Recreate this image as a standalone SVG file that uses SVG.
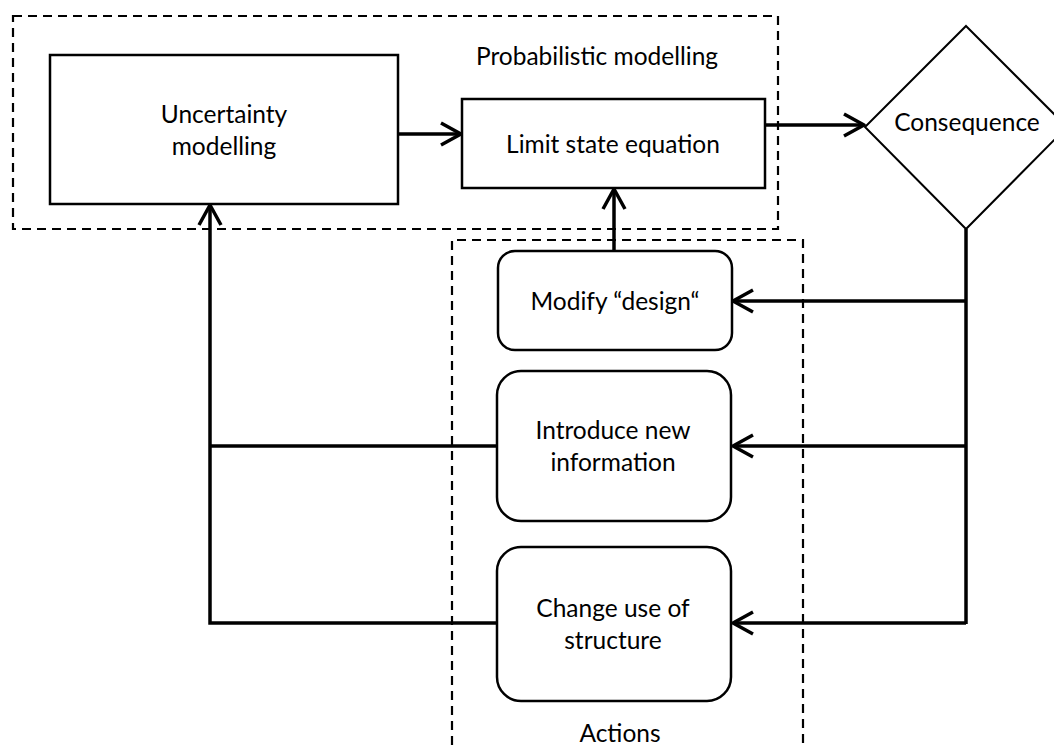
<svg xmlns="http://www.w3.org/2000/svg" width="1054" height="746" viewBox="0 0 1054 746">
  <style>
    .box { fill: #ffffff; stroke: #000000; stroke-width: 2.5; }
    .dia { fill: #ffffff; stroke: #000000; stroke-width: 2; }
    .dash { fill: none; stroke: #000000; stroke-width: 2.2; stroke-dasharray: 9 6; }
    .con { fill: none; stroke: #000000; stroke-width: 3.5; }
    .arr { fill: none; stroke: #000000; stroke-width: 3.5; marker-end: url(#head); }
    text { font-family: Lato, "Open Sans", "Liberation Sans", sans-serif; font-size: 24.5px; fill: #000000; text-anchor: middle; }
  </style>
  <defs>
    <marker id="head" markerUnits="userSpaceOnUse" viewBox="-23 -13 25 26" markerWidth="25" markerHeight="26" refX="0" refY="0" orient="auto">
      <path d="M -20 -11 L 0 0 L -20 11" fill="none" stroke="#000000" stroke-width="3.5" stroke-linejoin="round"/>
    </marker>
  </defs>
  <rect width="1054" height="746" fill="#ffffff"/>

  <g id="group-probabilistic">
    <rect class="dash" x="13" y="16" width="765" height="213"/>
    <text x="597" y="65">Probabilistic modelling</text>
  </g>
  <g id="group-actions">
    <path class="dash" d="M 452 760 L 452 240 L 803 240 L 803 760"/>
    <text x="620" y="742">Actions</text>
  </g>

  <g id="connectors">
    <path class="arr" d="M 398 134 L 461 134"/>
    <path class="arr" d="M 765 125 L 864 125"/>
    <path class="con" d="M 966 229 L 966 624"/>
    <path class="arr" d="M 966 301 L 733 301"/>
    <path class="arr" d="M 966 446 L 733 446"/>
    <path class="arr" d="M 966 623 L 733 623"/>
    <path class="arr" d="M 614 251 L 614 189"/>
    <path class="con" d="M 497 446 L 210 446"/>
    <path class="arr" d="M 497 623 L 210 623 L 210 205"/>
  </g>

  <g id="node-uncertainty">
    <rect class="box" x="50" y="55" width="348" height="149"/>
    <text x="224" y="123">Uncertainty</text>
    <text x="224" y="155">modelling</text>
  </g>
  <g id="node-limit">
    <rect class="box" x="462" y="99" width="303" height="89"/>
    <text x="613" y="153">Limit state equation</text>
  </g>
  <g id="node-consequence">
    <polygon class="dia" points="966,26 1067,127 966,229 865,127"/>
    <text x="967" y="131">Consequence</text>
  </g>
  <g id="node-modify">
    <rect class="box" x="498" y="251" width="234" height="99" rx="17" ry="17"/>
    <text x="615" y="310">Modify “design“</text>
  </g>
  <g id="node-introduce">
    <rect class="box" x="497" y="371" width="234" height="150" rx="24" ry="24"/>
    <text x="613" y="439">Introduce new</text>
    <text x="613" y="471">information</text>
  </g>
  <g id="node-change">
    <rect class="box" x="497" y="547" width="234" height="154" rx="24" ry="24"/>
    <text x="613" y="617">Change use of</text>
    <text x="613" y="649">structure</text>
  </g>
</svg>
